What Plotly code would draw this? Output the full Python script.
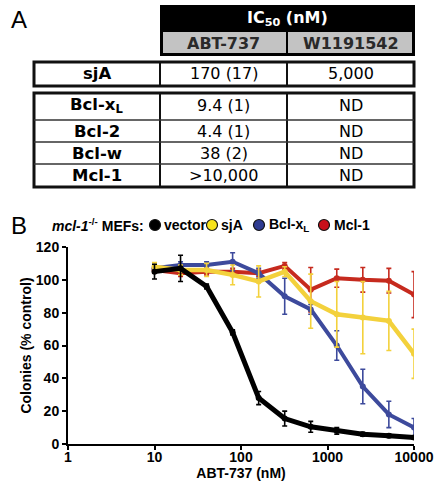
import plotly.graph_objects as go

# ---------------- data ----------------
conc = [10, 20, 40, 80, 160, 320, 640, 1280, 2560, 5120, 10000]
vector = [105, 107, 96, 68, 28, 15.5, 10.5, 8, 6, 5, 4]
vector_err = [4.5, 8, 1.5, 1.5, 4, 4.5, 3.3, 2, 1.2, 1, 1]
sja = [108, 106, 106, 103, 99, 105, 87, 79, 77, 75, 55]
sja_err = [2.5, 3, 4, 6, 9.5, 3, 16.5, 20, 22, 18, 15]
bclxl = [107, 109, 109, 111, 104, 90, 82, 60, 35, 18, 10]
bclxl_err = [2, 2, 2, 5.5, 3, 11, 3, 9, 10.5, 8, 5.5]
mcl1 = [106, 104, 105, 105, 104, 108.5, 94, 101, 100, 99.5, 91]
mcl1_err = [2, 2, 2, 2, 2, 2, 13.5, 5.5, 7.5, 7.5, 14]

x_tickvals = [1, 10, 100, 1000, 10000]
x_ticktext = ["1", "10", "100", "1000", "10000"]
y_tickvals = [0, 20, 40, 60, 80, 100, 120]

# table A
table_cols = ["ABT-737", "W1191542"]
row_labels = ["sjA", "Bcl-x<sub>L</sub>", "Bcl-2", "Bcl-w", "Mcl-1"]
abt_vals = ["170 (17)", "9.4 (1)", "4.4 (1)", "38 (2)", ">10,000"]
w_vals = ["5,000", "ND", "ND", "ND", "ND"]

# legend
legend_names = ["vector", "sjA", "Bcl-x<sub>L</sub>", "Mcl-1"]

# ---------------- styles ----------------
C_BLACK = "#000000"
C_YEL = "#f3d13c"
C_BLUE = "#3d4a9c"
C_RED = "#c62a1e"
LEG_COLORS = ["#000000", "#f7e31a", "#2e3b91", "#c8101a"]

W, H = 435, 488
PL, PR, PT, PB = 68, 414, 247, 444   # plot area in page pixels
L, T, R, B = PL, PT, W - PR, H - PB
PW, PH = PR - PL, PB - PT


def px(x):
    return (x - PL) / PW


def py(y):
    return (PB - y) / PH


fig = go.Figure()

series = [
    (mcl1, mcl1_err, C_RED, 4),
    (bclxl, bclxl_err, C_BLUE, 4),
    (sja, sja_err, C_YEL, 4.5),
    (vector, vector_err, C_BLACK, 5),
]
for vals, errs, col, lw in series:
    fig.add_trace(go.Scatter(
        x=conc, y=vals, mode="lines+markers",
        line=dict(color=col, width=lw),
        marker=dict(color=col, size=6),
        error_y=dict(type="data", array=errs, visible=True,
                     color=col, thickness=1.6, width=2.5),
        showlegend=False, hoverinfo="skip",
    ))

axis_font = dict(family="Liberation Sans, Arial", size=14, color="black", weight="bold")

fig.update_xaxes(
    type="log", range=[0, 4], tickvals=x_tickvals, ticktext=x_ticktext,
    showline=True, linecolor="black", linewidth=2, ticks="outside",
    ticklen=4, tickwidth=2, tickcolor="black", showgrid=False, zeroline=False,
    tickfont=axis_font, ticklabelstandoff=-5,
    title=dict(text="ABT-737 (nM)", font=axis_font, standoff=3),
)
fig.update_yaxes(
    range=[0, 120], tickvals=y_tickvals,
    showline=True, linecolor="black", linewidth=2, ticks="outside",
    ticklen=4, tickwidth=2, tickcolor="black", showgrid=False, zeroline=False,
    tickfont=axis_font,
    title=dict(text="Colonies (% control)", font=axis_font, standoff=1),
)

shapes = []
annos = []


def anno(x, y, text, font, xanchor="center"):
    annos.append(dict(x=px(x), y=py(y), xref="paper", yref="paper", text=text,
                      showarrow=False, xanchor=xanchor, yanchor="middle", font=font))


def rect(x0, x1, y0, y1, fill, line=None):
    shapes.append(dict(type="rect", xref="paper", yref="paper", x0=px(x0), x1=px(x1),
                       y0=py(y0), y1=py(y1), fillcolor=fill,
                       line=line if line else dict(width=0)))


def seg(x0, x1, y0, y1, color, width):
    shapes.append(dict(type="line", xref="paper", yref="paper", x0=px(x0), x1=px(x1),
                       y0=py(y0), y1=py(y1), line=dict(color=color, width=width)))


# ---- Panel letters ----
LETTER = dict(family="Liberation Sans, Arial", size=24, color="black")
anno(9, 19, "A", LETTER, "left")
anno(9, 225, "B", LETTER, "left")

# ---- Table header ----
TF = "DejaVu Sans, Verdana"
c0, c1, c2, c3 = 34, 160, 287, 414
rect(c1, c3 + 1, 5, 56, "black")
rect(c1 + 3, c2 - 1, 32, 53, "#c3c3c3")
rect(c2 + 1, c3 - 2, 32, 53, "#c3c3c3")
anno((c1 + c3) / 2, 18, "<b>IC<sub>50</sub> (nM)</b>", dict(family=TF, size=16, color="white"))
anno((c1 + c2) / 2, 43, "<b>%s</b>" % table_cols[0], dict(family=TF, size=16, color="#2a2a2a"))
anno((c2 + c3) / 2, 43, "<b>%s</b>" % table_cols[1], dict(family=TF, size=16, color="#2a2a2a"))

# ---- sjA box ----
rect(c0, c3, 62, 86, "white", dict(color="#111", width=3))
for cx in (c1, c2):
    seg(cx, cx, 62, 86, "#111", 2)

# ---- lower table ----
row_edges = [93, 120, 142, 164, 187]
rect(c0, c3, row_edges[0], row_edges[-1], "white", dict(color="#111", width=3))
for cx in (c1, c2):
    seg(cx, cx, row_edges[0], row_edges[-1], "#111", 2)
for ry in row_edges[1:-1]:
    seg(c0, c3, ry, ry, "#333", 1.5)

row_centers = [74, (row_edges[0] + row_edges[1]) / 2 - 1, (row_edges[1] + row_edges[2]) / 2,
               (row_edges[2] + row_edges[3]) / 2, (row_edges[3] + row_edges[4]) / 2]
TFONT = dict(family=TF, size=16, color="black")
TFONT_B = dict(family=TF, size=16.5, color="black")
for lab, a, w, cy in zip(row_labels, abt_vals, w_vals, row_centers):
    anno((c0 + c1) / 2, cy, "<b>%s</b>" % lab, TFONT_B)
    anno((c1 + c2) / 2, cy, a, TFONT)
    anno((c2 + c3) / 2, cy, w, TFONT)

# ---- legend for panel B ----
LF = dict(family="Liberation Sans, Arial", size=14, color="black")
ly = 225
anno(50, ly, "<b><i>mcl-1</i><sup>-/-</sup> MEFs:</b>", LF, "left")
circ_x = [155, 212, 259, 324]
text_x = [162, 219, 267, 332]
for name, col, cx, tx in zip(legend_names, LEG_COLORS, circ_x, text_x):
    shapes.append(dict(type="circle", xref="paper", yref="paper",
                       x0=px(cx - 5.5), x1=px(cx + 5.5), y0=py(ly - 5.5), y1=py(ly + 5.5),
                       fillcolor=col, line=dict(color="#111", width=1.2)))
    anno(tx, ly, "<b>%s</b>" % name, LF, "left")

fig.update_layout(
    width=W, height=H,
    margin=dict(l=L, r=R, t=T, b=B, autoexpand=False),
    paper_bgcolor="white", plot_bgcolor="white",
    shapes=shapes, annotations=annos, showlegend=False,
)

fig.write_html(
    "out.html",
    config={"displayModeBar": False},
    post_script="document.body.style.margin='0';document.body.style.overflow='hidden';",
)
